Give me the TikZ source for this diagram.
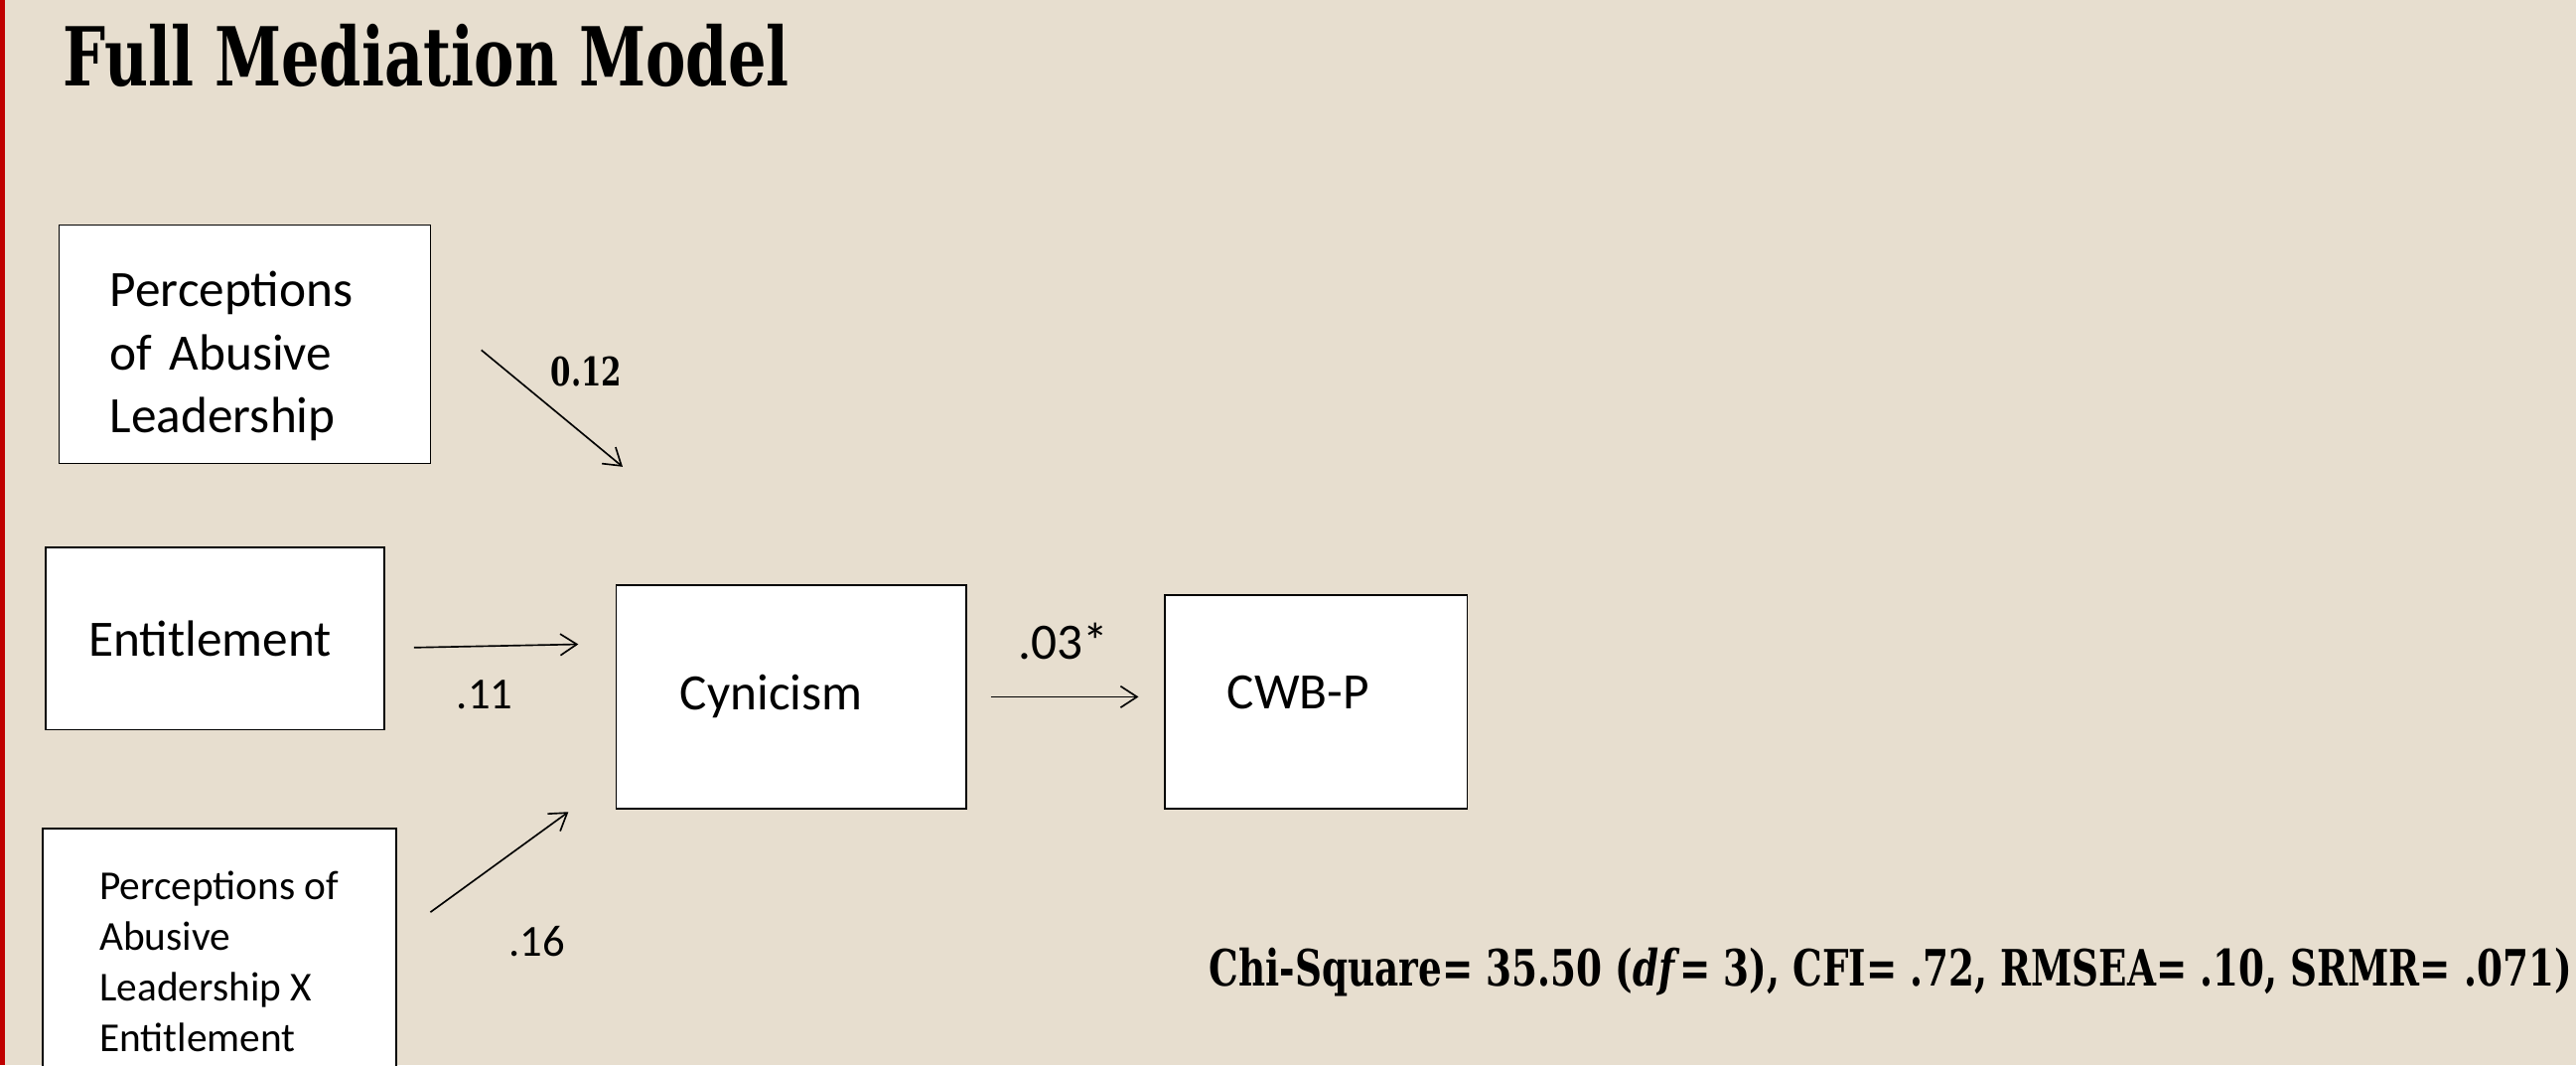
\documentclass[tikz,border=0pt]{standalone}
\usepackage{fontspec}
\setmainfont{Carlito}
\newfontfamily\slabfont[FakeStretch=0.74]{DejaVu Serif}
\usetikzlibrary{arrows.meta}
\definecolor{slidebg}{HTML}{E7DECF}
\definecolor{slidered}{HTML}{C00000}

\begin{document}
\begin{tikzpicture}[x=1pt, y=-1pt,
        varbox/.style={draw=black, fill=white, line width=1pt, align=left, inner ysep=0pt},
        bigtext/.style={font=\fontsize{31}{38.5}\selectfont},
        effect/.style={line width=1pt, -{Straight Barb[length=10pt, width=13pt]}},
        coef/.style={inner sep=0pt, font=\fontsize{27}{30}\selectfont}
        ]
        \clip (0,0) rectangle (1568,648);
        \fill[slidebg] (0,0) rectangle (1568,648);
        \fill[slidered] (0,0) rectangle (3,648);

        \node[anchor=base west, inner sep=0pt, font=\slabfont\bfseries\fontsize{49.5}{60}\selectfont] (title) at (38,52) {Full Mediation Model};

        \node[varbox, bigtext, text width=164pt, inner xsep=31pt, minimum height=145pt] (abuse) at (149,209.5) {\rule{0pt}{36pt}Perceptions\\of Abusive\\Leadership};
        \node[varbox, bigtext, text width=154pt, inner xsep=26pt, minimum height=111pt] (entitle) at (131,388.5) {Entitlement};
        \node[varbox, inner xsep=0pt, minimum width=215pt, minimum height=162pt, font=\fontsize{25}{31}\selectfont] (inter) at (133.5,585) {Perceptions of\\Abusive\\Leadership X\\Entitlement};
        \node[varbox, bigtext, text width=135pt, inner xsep=39pt, minimum height=136pt] (cyn) at (481.5,424) {Cynicism};
        \node[varbox, bigtext, text width=108pt, inner xsep=38pt, minimum height=130pt, text height=20pt, text depth=12pt] (cwb) at (801,427) {CWB-P};

        \coordinate (abuse tail) at (293,213);
        \coordinate (abuse head) at (379,284);
        \coordinate (entitle tail) at (252,394);
        \coordinate (entitle head) at (352,392);
        \coordinate (inter tail) at (262,555);
        \coordinate (inter head) at (346,494);
        \coordinate (cyn tail) at (603,424);
        \coordinate (cyn head) at (693,424);

        \draw[effect] (abuse tail) -- (abuse head);
        \draw[effect] (entitle tail) -- (entitle head);
        \draw[effect] (inter tail) -- (inter head);
        \draw[effect] (cyn tail) -- (cyn head);

        \node[coef, font=\slabfont\bfseries\fontsize{24}{30}\selectfont] (b1) at (357,226) {0.12};
        \node[coef] (b2) at (295,423) {.11};
        \node[coef] (b3) at (327,573) {.16};
        \node[coef, font=\fontsize{31}{34}\selectfont] (b4) at (647,390) {.03*};

        \node[anchor=base west, inner sep=0pt, font=\slabfont\bfseries\fontsize{30.5}{36}\selectfont] (fit) at (736,600) {Chi-Square= 35.50 (\textit{df}= 3), CFI= .72, RMSEA= .10, SRMR= .071)};
    \end{tikzpicture}
\end{document}
